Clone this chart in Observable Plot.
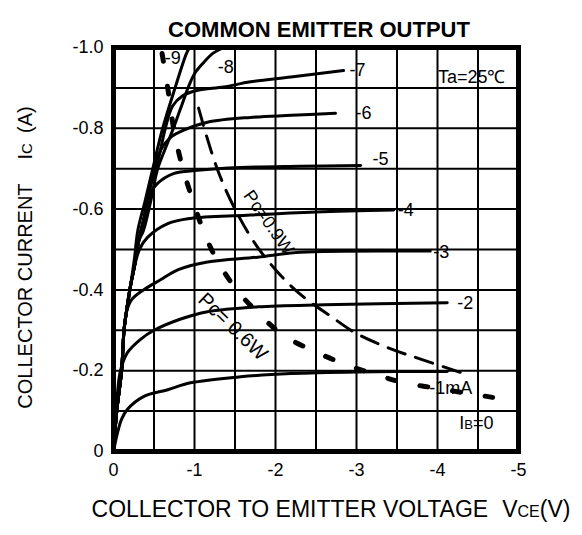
<!DOCTYPE html>
<html><head><meta charset="utf-8">
<script src="https://cdn.jsdelivr.net/npm/d3@7"></script>
<script src="https://cdn.jsdelivr.net/npm/@observablehq/plot@0.6"></script>
<style>
body{margin:0;background:#fff}
svg{font-family:"Liberation Sans",Arial,Helvetica,sans-serif}
</style>
</head><body><div id="chart"></div>
<script>
// ---- data ----
const xTicks = [0, -1, -2, -3, -4, -5];
const yTicks = [0, -0.2, -0.4, -0.6, -0.8, -1.0];
const xGrid = [-0.5, -1, -1.5, -2, -2.5, -3, -3.5, -4, -4.5];
const yGrid = [-0.1, -0.2, -0.3, -0.4, -0.5, -0.6, -0.7, -0.8, -0.9];

const curveNames = ["-1mA", "-2", "-3", "-4", "-5", "-6", "-7", "-8", "-9"];
const ib1V = [0, -0.02, -0.05, -0.1, -0.17, -0.37, -0.67, -0.95, -1.57, -2.19, -3.0, -4.12];
const ib1I = [0, -0.02, -0.047, -0.08, -0.104, -0.136, -0.153, -0.17, -0.185, -0.193, -0.197, -0.198];
const ib2V = [0, -0.02, -0.05, -0.086, -0.17, -0.33, -0.5, -0.83, -1.16, -1.78, -2.6, -4.12];
const ib2I = [0, -0.06, -0.146, -0.2, -0.244, -0.277, -0.3, -0.328, -0.346, -0.358, -0.363, -0.368];
const ib3V = [0, -0.04, -0.1, -0.13, -0.16, -0.22, -0.37, -0.58, -0.8, -1.16, -1.78, -2.31, -3.91];
const ib3I = [0, -0.1, -0.2, -0.3, -0.345, -0.375, -0.4, -0.425, -0.45, -0.469, -0.481, -0.493, -0.496];
const ib4V = [0, -0.04, -0.1, -0.13, -0.17, -0.21, -0.25, -0.32, -0.42, -0.67, -0.95, -1.65, -2.5, -3.46];
const ib4I = [0, -0.1, -0.2, -0.3, -0.36, -0.41, -0.45, -0.5, -0.53, -0.564, -0.577, -0.585, -0.593, -0.598];
const ib5V = [0, -0.04, -0.1, -0.13, -0.17, -0.21, -0.26, -0.31, -0.38, -0.46, -0.54, -0.74, -1.04, -1.57, -2.3, -3.05];
const ib5I = [0, -0.1, -0.2, -0.3, -0.36, -0.41, -0.46, -0.52, -0.58, -0.64, -0.663, -0.688, -0.696, -0.703, -0.706, -0.708];
const ib6V = [0, -0.04, -0.1, -0.13, -0.17, -0.21, -0.26, -0.31, -0.38, -0.46, -0.58, -0.72, -0.86, -1.16, -1.69, -2.2, -2.74];
const ib6I = [0, -0.1, -0.2, -0.3, -0.36, -0.41, -0.46, -0.52, -0.58, -0.66, -0.745, -0.78, -0.795, -0.815, -0.827, -0.832, -0.837];
const ib7V = [0, -0.04, -0.1, -0.13, -0.17, -0.21, -0.26, -0.31, -0.38, -0.46, -0.55, -0.64, -0.73, -0.85, -1.04, -1.36, -1.69, -2.19, -2.84];
const ib7I = [0, -0.1, -0.2, -0.3, -0.36, -0.41, -0.46, -0.52, -0.58, -0.66, -0.72, -0.8, -0.855, -0.88, -0.894, -0.902, -0.915, -0.927, -0.943];
const ib8V = [0, -0.04, -0.1, -0.13, -0.17, -0.21, -0.26, -0.31, -0.37, -0.46, -0.54, -0.64, -0.73, -0.83, -0.93, -1.0, -1.1, -1.23, -1.36];
const ib8I = [0, -0.1, -0.2, -0.3, -0.36, -0.41, -0.46, -0.52, -0.547, -0.62, -0.696, -0.75, -0.795, -0.85, -0.905, -0.935, -0.96, -0.986, -1.0];
const ib9V = [0, -0.04, -0.1, -0.13, -0.17, -0.21, -0.26, -0.3, -0.39, -0.48, -0.6, -0.76, -0.9, -0.94];
const ib9I = [0, -0.1, -0.2, -0.3, -0.36, -0.41, -0.48, -0.547, -0.62, -0.696, -0.795, -0.9, -0.985, -1.0];

const pc09V = [-1.05, -1.15, -1.28, -1.45, -1.73, -2.0, -2.3, -2.68, -3.0, -3.4, -3.8, -4.28];
const pc09I = [-0.85, -0.78, -0.7, -0.62, -0.52, -0.45, -0.39, -0.335, -0.292, -0.256, -0.228, -0.196];
const pc06V = [-0.6, -0.68, -0.74, -0.83, -0.95, -1.1, -1.26, -1.51, -1.79, -2.1, -2.46, -2.83, -3.2, -3.57, -3.94, -4.31, -4.68];
const pc06I = [-0.985, -0.886, -0.802, -0.72, -0.639, -0.552, -0.48, -0.403, -0.342, -0.287, -0.25, -0.218, -0.193, -0.171, -0.158, -0.146, -0.134];

const titleText = "COMMON EMITTER OUTPUT";
const xLabelText = "COLLECTOR TO EMITTER VOLTAGE VCE(V)";
const yLabelText = "COLLECTOR CURRENT IC (A)";
const tempText = "Ta=25℃";
const ib0Text = "IB=0";
const pc09Text = "Pc=0.9W";
const pc06Text = "Pc= 0.6W";

// ---- build tables ----
const curveV = [ib1V, ib2V, ib3V, ib4V, ib5V, ib6V, ib7V, ib8V, ib9V];
const curveI = [ib1I, ib2I, ib3I, ib4I, ib5I, ib6I, ib7I, ib8I, ib9I];
const curveRows = curveNames.flatMap((s, k) => curveV[k].map((v, j) => ({s, v, i: curveI[k][j]})));
const ends = curveNames.map((s, k) => ({s, v: curveV[k].at(-1), i: curveI[k].at(-1)}));
const pc09Rows = pc09V.map((v, j) => ({v, i: pc09I[j]}));
const pc06Rows = pc06V.map((v, j) => ({v, i: pc06I[j]}));

// label offsets (pixels) relative to each curve end
const off = {
  "-1mA": [-18, 17], "-2": [10, 0], "-3": [3, 1], "-4": [4, 0], "-5": [12, -6],
  "-6": [20, 0], "-7": [6, 0], "-8": [-6, 20], "-9": [-25, 11]
};

const labelMarks = ends.map(e => Plot.text([e], {
  x: "v", y: "i", text: "s", textAnchor: "start", fontSize: 18,
  dx: off[e.s][0], dy: off[e.s][1], fill: "black"
}));

const chart = Plot.plot({
  width: 582, height: 535,
  marginLeft: 113, marginRight: 64, marginTop: 47, marginBottom: 84,
  style: {background: "white", color: "black", fontSize: "18px"},
  x: {domain: [0, -5], label: null},
  y: {domain: [0, -1], label: null},
  marks: [
    Plot.ruleX(xGrid, {stroke: "black", strokeWidth: 2}),
    Plot.ruleY(yGrid, {stroke: "black", strokeWidth: 2}),
    Plot.line(curveRows, {x: "v", y: "i", z: "s", stroke: "black", strokeWidth: 3, curve: "catmull-rom"}),
    Plot.line(pc09Rows, {x: "v", y: "i", stroke: "black", strokeWidth: 3, strokeDasharray: "18,11", curve: "catmull-rom"}),
    Plot.line(pc06Rows, {x: "v", y: "i", stroke: "black", strokeWidth: 5, strokeDasharray: "8,25", curve: "catmull-rom"}),
    Plot.frame({stroke: "black", strokeWidth: 5}),
    Plot.axisX({ticks: xTicks, tickSize: 0, tickPadding: 12, tickFormat: d => String(d), fontSize: 18, label: null}),
    Plot.axisY({ticks: yTicks, tickSize: 0, tickPadding: 10, tickFormat: d => d === 0 ? "0" : d.toFixed(1), fontSize: 18, label: null}),
    ...labelMarks,
    Plot.text([pc09Rows[4]], {x: "v", y: "i", text: () => pc09Text, rotate: 55, dx: 15, dy: -19, fontSize: 18}),
    Plot.text([pc06Rows[7]], {x: "v", y: "i", text: () => pc06Text, rotate: 44, dx: -3, dy: 38, fontSize: 20}),
    Plot.text([tempText], {frameAnchor: "top-right", text: d => d, textAnchor: "end", dx: -13, dy: 23, fontSize: 18}),
    Plot.text([ib0Text], {frameAnchor: "bottom-right", text: d => d, textAnchor: "end", dx: -25, dy: -23, fontSize: 18}),
    Plot.text([titleText], {frameAnchor: "top", text: d => d, textAnchor: "middle", dx: 3, dy: -26, fontSize: 22, fontWeight: "bold"}),
    Plot.text([xLabelText], {frameAnchor: "bottom", text: d => d, textAnchor: "middle", dx: 15, dy: 65, fontSize: 23}),
    Plot.text([yLabelText], {frameAnchor: "left", text: d => d, textAnchor: "middle", rotate: -90, dx: -88, dy: 8, fontSize: 20})
  ]
});
document.getElementById("chart").appendChild(chart);

// subscripts
function rich(plain, parts) {
  d3.select(chart).selectAll("text").filter(function () { return this.textContent === plain; }).each(function () {
    const t = d3.select(this);
    t.text(null);
    parts.forEach(p => {
      const s = t.append("tspan").text(p.t);
      if (p.size) s.attr("font-size", p.size);
      if (p.dx) s.attr("dx", p.dx);
    });
  });
}
rich(xLabelText, [{t: "COLLECTOR TO EMITTER VOLTAGE"}, {t: "V", dx: 14}, {t: "CE", size: 16}, {t: "(V)"}]);
rich(yLabelText, [{t: "COLLECTOR CURRENT"}, {t: "I", dx: 24}, {t: "C", size: 15}, {t: "(A)", dx: 10}]);
rich(ib0Text, [{t: "I"}, {t: "B", size: 13}, {t: "=0"}]);
</script>
</body></html>
